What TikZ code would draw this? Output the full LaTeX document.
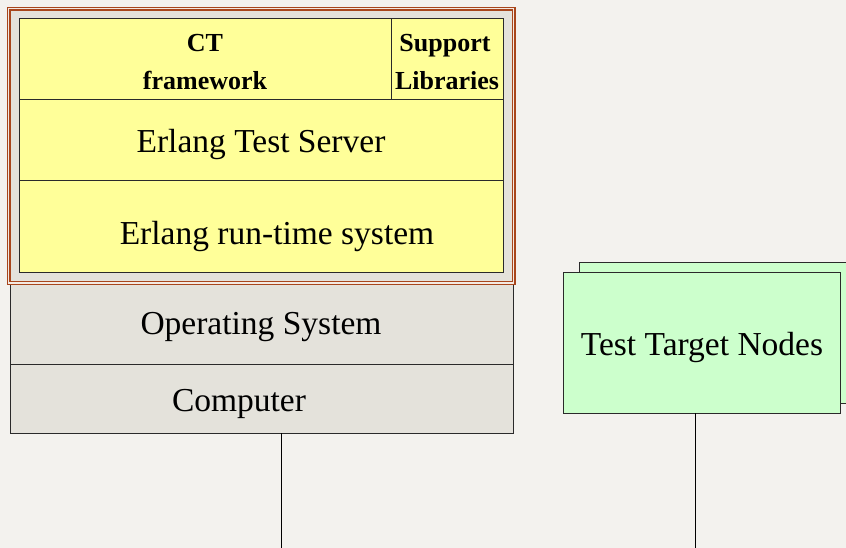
\documentclass[tikz,border=0pt]{standalone}
\usepackage{fontspec}
\setmainfont{Liberation Serif}
\definecolor{bgc}{HTML}{F3F2EE}
\definecolor{graybox}{HTML}{E4E2DB}
\definecolor{yel}{HTML}{FFFF99}
\definecolor{grn}{HTML}{CCFFCC}
\definecolor{brn}{HTML}{A8461C}
\definecolor{edge}{HTML}{2A2A2A}
\definecolor{gap}{HTML}{F4EAE2}
\tikzset{
  cell/.style={draw=edge, line width=1pt, inner sep=0pt, outer sep=0pt, anchor=north west},
  big/.style={font=\fontsize{33.5}{38}\selectfont, anchor=base, inner sep=0pt},
  small/.style={font=\fontsize{26}{30}\selectfont\bfseries, anchor=base, inner sep=0pt},
  wire/.style={draw=black, line width=1pt}
}
\begin{document}
\begin{tikzpicture}[x=1pt,y=-1pt]
\clip (0,0) rectangle (846,548);
\fill[bgc] (0,0) rectangle (846,548);

% host machine: operating system and hardware
\node[cell, fill=graybox, minimum width=503, minimum height=80] (os) at (10,284) {};
\node[cell, fill=graybox, minimum width=503, minimum height=69] (pc) at (10,364) {};
\node[big] (ostxt) at (261,334) {Operating System};
\node[big] (pctxt) at (239,411) {Computer};

% Common Test node frame
\node[draw=brn, line width=1.4pt, double=gap, double distance=1.2pt, fill=graybox,
      inner sep=0pt, outer sep=0pt, anchor=north west,
      minimum width=504.75, minimum height=274.25] (frame) at (8.75,8.75) {};

% software stack
\node[cell, fill=yel, minimum width=372, minimum height=81] (ct) at (19,19) {};
\node[cell, fill=yel, minimum width=112, minimum height=81] (lib) at (391,19) {};
\node[cell, fill=yel, minimum width=484, minimum height=81] (ts) at (19,100) {};
\node[cell, fill=yel, minimum width=484, minimum height=91] (rt) at (19,181) {};
\node[small] (cttxt1) at (205,51.5) {CT};
\node[small] (cttxt2) at (205,89.5) {framework};
\node[small] (libtxt1) at (445,51.5) {Support};
\node[small] (libtxt2) at (447,90) {Libraries};
\node[big] (tstxt) at (261,153) {Erlang Test Server};
\node[big] (rttxt) at (277,244) {Erlang run-time system};

% target nodes
\node[cell, fill=grn, minimum width=277, minimum height=141] (tgtback) at (579,262) {};
\node[cell, fill=grn, minimum width=277, minimum height=141] (tgt) at (563,272) {};
\node[big] (tgttxt) at (702,355) {Test Target Nodes};

% network drops
\coordinate (pcdown) at (281,548);
\coordinate (tgtdown) at (695,548);
\draw[wire] (pc.south -| pcdown) -- (pcdown);
\draw[wire] (tgt.south -| tgtdown) -- (tgtdown);
\end{tikzpicture}
\end{document}
